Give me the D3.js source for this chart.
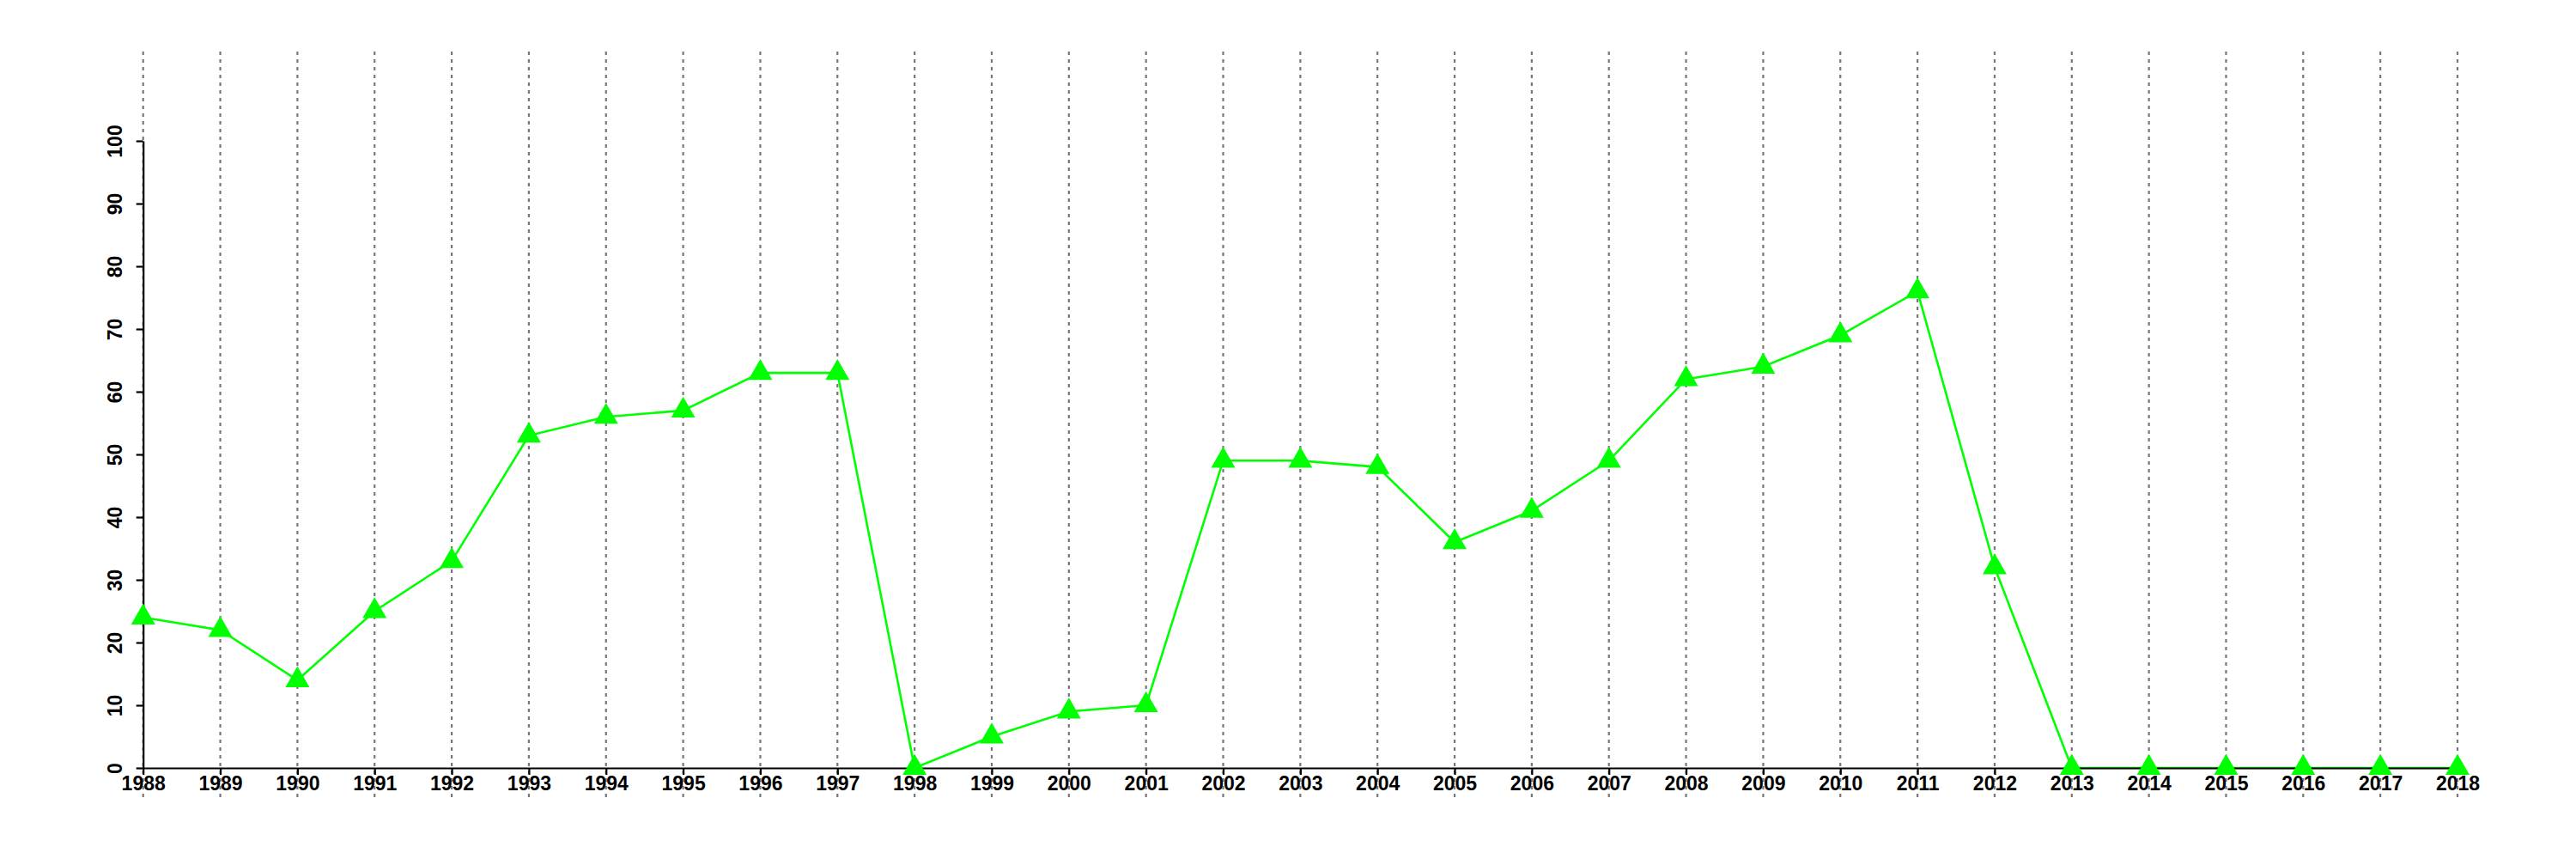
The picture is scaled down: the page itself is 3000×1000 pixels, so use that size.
<!DOCTYPE html>
<html>
<head>
<meta charset="utf-8">
<script src="https://cdn.jsdelivr.net/npm/d3@7"></script>
<style>
  html, body { margin: 0; padding: 0; background: #fff; }
  svg { display: block; }
</style>
</head>
<body>
<script>
const years = [1988,1989,1990,1991,1992,1993,1994,1995,1996,1997,1998,1999,2000,2001,2002,2003,2004,2005,2006,2007,2008,2009,2010,2011,2012,2013,2014,2015,2016,2017,2018];
const values = [24,22,14,25,33,53,56,57,63,63,0,5,9,10,49,49,48,36,41,49,62,64,69,76,32,0,0,0,0,0,0];
const yTicks = [0,10,20,30,40,50,60,70,80,90,100];

const W = 3000, H = 1000;
const svg = d3.select("body").append("svg").attr("width", W).attr("height", H);

const x = d3.scaleLinear().domain([1988, 2018]).range([166.7, 2862]);
const y = d3.scaleLinear().domain([0, 100]).range([894, 164]);

// vertical dotted gridlines
svg.append("g").selectAll("line").data(years).join("line")
  .attr("x1", d => x(d)).attr("x2", d => x(d))
  .attr("y1", 60).attr("y2", 928)
  .attr("stroke", "#777").attr("stroke-width", 2.2)
  .attr("stroke-dasharray", "4,5");

// line
const line = d3.line().x((d, i) => x(years[i])).y(d => y(d));
svg.append("path").datum(values)
  .attr("d", line).attr("fill", "none")
  .attr("stroke", "#00ff00").attr("stroke-width", 2.6);

// x axis
const xAxis = d3.axisBottom(x).tickValues(years).tickFormat(d3.format("d")).tickSize(8).tickSizeOuter(0);
const gx = svg.append("g").attr("transform", "translate(0,894)").call(xAxis);
gx.select(".domain").attr("stroke", "#000").attr("stroke-width", 2.2);
gx.selectAll(".tick line").attr("stroke", "#000").attr("stroke-width", 2.2);
gx.selectAll(".tick text")
  .attr("y", 10).attr("dy", "0.71em")
  .attr("fill", "#000")
  .style("font-family", "'Liberation Sans', Arial, Helvetica, sans-serif")
  .style("font-weight", "bold").style("font-size", "23px");

// y axis
const yAxis = d3.axisLeft(y).tickValues(yTicks).tickSize(8).tickSizeOuter(0);
const gy = svg.append("g").attr("transform", "translate(166.7,0)").call(yAxis);
gy.select(".domain").attr("stroke", "#000").attr("stroke-width", 2.2);
gy.selectAll(".tick line").attr("stroke", "#000").attr("stroke-width", 2.2);
gy.selectAll(".tick text")
  .attr("x", null).attr("dy", null)
  .attr("text-anchor", "middle")
  .attr("transform", "translate(-25,0) rotate(-90)")
  .attr("fill", "#000")
  .style("font-family", "'Liberation Sans', Arial, Helvetica, sans-serif")
  .style("font-weight", "bold").style("font-size", "23px");

// markers
const tri = d3.symbol().type(d3.symbolTriangle).size(340);
svg.append("g").selectAll("path").data(values).join("path")
  .attr("d", tri)
  .attr("transform", (d, i) => `translate(${x(years[i])},${y(d)})`)
  .attr("fill", "#00ff00");
</script>
</body>
</html>
